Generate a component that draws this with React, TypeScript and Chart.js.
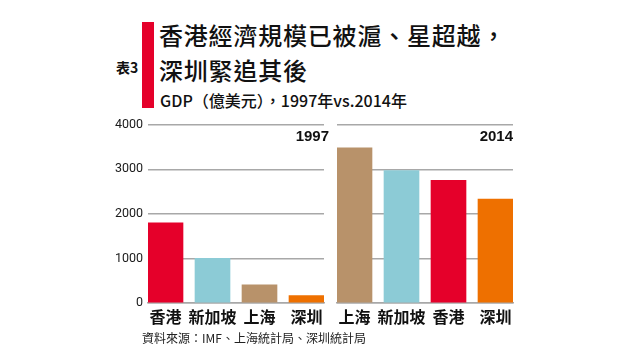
import React, { useEffect, useRef } from "react";
import { Chart, registerables } from "chart.js";

Chart.register(...registerables);

const labels1997 = ["香港", "新加坡", "上海", "深圳"];
const values1997 = [1800, 1000, 410, 165];
const colors1997 = ["#e5002a", "#8ccbd6", "#b8926a", "#ee7000"];

const labels2014 = ["上海", "新加坡", "香港", "深圳"];
const values2014 = [3480, 2970, 2750, 2330];
const colors2014 = ["#b8926a", "#8ccbd6", "#e5002a", "#ee7000"];

const yTicks = [0, 1000, 2000, 3000, 4000];

const FONT = "'Noto Sans CJK TC', 'Noto Sans', sans-serif";
const GRID = "#a8a8a8";

function makeConfig(labels: string[], values: number[], colors: string[], year: string, showY: boolean): any {
  const half = 17.5 / 47;
  return {
    type: "bar",
    data: {
      datasets: [
        {
          data: values.map((v, i) => ({ x: i, y: v })),
          backgroundColor: colors,
          borderWidth: 0,
          barThickness: 35,
        },
      ],
    },
    options: {
      animation: false,
      responsive: false,
      maintainAspectRatio: false,
      events: [],
      layout: { padding: showY ? { left: 0, right: 6, top: 14.7, bottom: 0 } : { left: 7, right: 7, top: 14.7, bottom: 0 } },
      plugins: {
        legend: { display: false },
        tooltip: { enabled: false },
        title: { display: false },
      },
      scales: {
        x: {
          type: "linear",
          offset: false,
          min: -half,
          max: 3 + half,
          afterBuildTicks: (axis: any) => {
            axis.ticks = labels.map((_, i) => ({ value: i }));
          },
          afterFit: (axis: any) => {
            axis.height = 29;
          },
          grid: { display: false, drawTicks: false, offset: false },
          border: { display: true, color: GRID, width: 1.5 },
          ticks: {
            padding: 4,
            autoSkip: false,
            maxRotation: 0,
            color: "#111",
            font: { family: FONT, size: 16, weight: "bold" },
            callback: (v: any) => labels[Math.round(Number(v))] ?? "",
          },
        },
        y: {
          min: 0,
          max: 4000,
          afterBuildTicks: (axis: any) => {
            axis.ticks = yTicks.map((v) => ({ value: v }));
          },
          afterFit: (axis: any) => {
            axis.width = showY ? 48 : 0;
          },
          grid: { color: GRID, lineWidth: 1.5, drawTicks: false },
          border: { display: false },
          ticks: {
            display: showY,
            padding: 5,
            color: "#1a1a1a",
            font: { family: "'Liberation Sans Narrow', 'Roboto', sans-serif", size: 12.5 },
            callback: (v: any) => String(v),
          },
        },
      },
    },
    plugins: [
      {
        id: "yearLabel",
        afterDraw: (chart: any) => {
          const { ctx, chartArea } = chart;
          ctx.save();
          ctx.font = `bold 15px 'Liberation Sans', 'Roboto', sans-serif`;
          ctx.fillStyle = "#111";
          ctx.textAlign = "right";
          ctx.textBaseline = "middle";
          ctx.fillText(year, chartArea.right + (showY ? 5 : 0), chartArea.top + 12);
          ctx.restore();
        },
      },
    ],
  };
}

function BarPanel(props: { labels: string[]; values: number[]; colors: string[]; year: string; showY: boolean; left: number; width: number }) {
  const ref = useRef<HTMLCanvasElement | null>(null);
  useEffect(() => {
    if (!ref.current) return;
    const chart = new Chart(ref.current, makeConfig(props.labels, props.values, props.colors, props.year, props.showY));
    return () => chart.destroy();
  }, []);
  return (
    <canvas
      ref={ref}
      width={props.width}
      height={222}
      style={{ position: "absolute", left: props.left, top: 110, width: props.width, height: 222 }}
    />
  );
}

export default function App() {
  return (
    <div style={{ position: "absolute", left: 0, top: 0, width: 625, height: 358, background: "#fff", overflow: "hidden", fontFamily: FONT }}>
      <div style={{ position: "absolute", left: 142, top: 22, width: 12, height: 86, background: "#e5002a" }} />
      <div style={{ position: "absolute", left: 116, top: 57, fontSize: 14, fontWeight: "bold", color: "#111", lineHeight: "20px" }}>表3</div>
      <div style={{ position: "absolute", left: 159, top: 18, fontSize: 24, fontWeight: 500, color: "#111", lineHeight: "34px", whiteSpace: "nowrap", letterSpacing: 0.8 }}>
        香港經濟規模已被滬、星超越，
      </div>
      <div style={{ position: "absolute", left: 159, top: 53, fontSize: 24, fontWeight: 500, color: "#111", lineHeight: "34px", whiteSpace: "nowrap", letterSpacing: 0.8 }}>
        深圳緊追其後
      </div>
      <div style={{ position: "absolute", left: 160, top: 89, fontSize: 16, fontWeight: 500, color: "#111", lineHeight: "22px", whiteSpace: "nowrap" }}>
        GDP（億美元），1997年vs.2014年
      </div>
      <BarPanel labels={labels1997} values={values1997} colors={colors1997} year="1997" showY={true} left={100} width={230} />
      <BarPanel labels={labels2014} values={values2014} colors={colors2014} year="2014" showY={false} left={330} width={190} />
      <div style={{ position: "absolute", left: 142, top: 329, fontSize: 12, color: "#222", lineHeight: "18px", whiteSpace: "nowrap" }}>
        資料來源：IMF、上海統計局、深圳統計局
      </div>
    </div>
  );
}
